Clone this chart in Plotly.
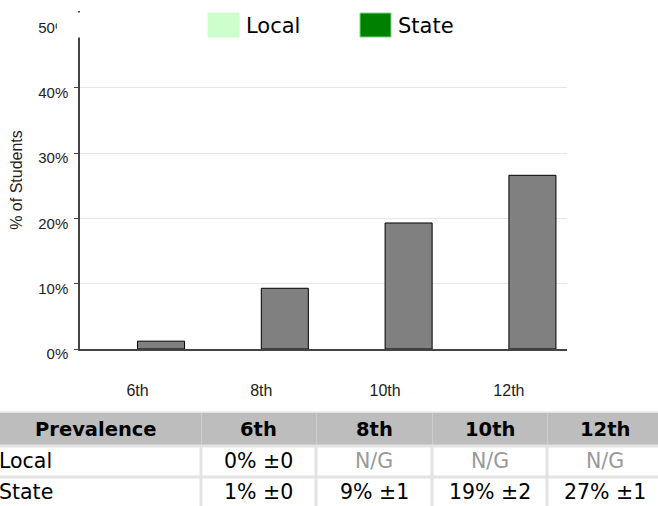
import plotly.graph_objects as go

# ---------------- data ----------------
grades = ["6th", "8th", "10th", "12th"]
local_values = [0, None, None, None]
state_values = [1.2, 9.3, 19.3, 26.6]
y_ticks = [0, 10, 20, 30, 40, 50]
y_tick_labels = ["0%", "10%", "20%", "30%", "40%", "50%"]

legend_names = ["Local", "State"]
legend_colors = ["#ccffcc", "#008000"]

table_header = ["Prevalence", "6th", "8th", "10th", "12th"]
row_labels = ["Local", "State"]
local_cells = ["0% ±0", "N/G", "N/G", "N/G"]
state_cells = ["1% ±0", "9% ±1", "19% ±2", "27% ±1"]

# ---------------- layout constants ----------------
W, H = 658, 506
ML, MR, MT, MB = 80, 91, 11, 157
PW, PH = W - ML - MR, H - MT - MB


def px(x):
    return (x - ML) / PW


def py(y):
    return (H - MB - y) / PH


FONT_AX = "Liberation Sans, Arial, sans-serif"
FONT_V = "DejaVu Sans, Verdana, sans-serif"

xpos = list(range(len(grades)))
bar_w = 0.38

fig = go.Figure()
fig.add_bar(x=xpos, y=local_values, width=bar_w, offset=-bar_w, name=legend_names[0],
            marker=dict(color="#808080", line=dict(color="#000000", width=0)),
            showlegend=False, hoverinfo="skip")
fig.add_bar(x=xpos, y=state_values, width=bar_w, offset=0, name=legend_names[1],
            marker=dict(color="#808080", line=dict(color="#000000", width=1)),
            showlegend=False)

shapes = []
annotations = []

# white box hiding the top of the axis (legend band)
shapes.append(dict(type="rect", xref="paper", yref="paper", layer="above",
                   x0=px(57), x1=px(W + 5), y0=py(37.5), y1=py(12.5),
                   fillcolor="white", line=dict(width=0)))

# legend
leg_x = [208, 360]
for name, col, lx in zip(legend_names, legend_colors, leg_x):
    shapes.append(dict(type="rect", xref="paper", yref="paper", layer="above",
                       x0=px(lx), x1=px(lx + 31), y0=py(37), y1=py(13),
                       fillcolor=col,
                       line=dict(color="#7fd87f" if col == "#008000" else col, width=1)))
    annotations.append(dict(text=name, xref="paper", yref="paper", x=px(lx + 36), y=py(26.5),
                            xanchor="left", yanchor="middle", showarrow=False,
                            font=dict(family=FONT_V, size=21, color="#000000")))

# table
col_edges = [-20, 201, 316, 432, 547, 680]
col_centers = [96, 258.5, 374, 489.5, 604.5]
head_top, head_bot = 413, 444.5
rows_y = [(447.5, 475.5), (478.5, 520)]
row_text_y = [461, 492]

shapes.append(dict(type="rect", xref="paper", yref="paper", layer="above",
                   x0=px(-20), x1=px(680), y0=py(530), y1=py(411.5),
                   fillcolor="#e3e3e3", line=dict(width=0)))
shapes.append(dict(type="rect", xref="paper", yref="paper", layer="above",
                   x0=px(-20), x1=px(680), y0=py(head_bot), y1=py(head_top),
                   fillcolor="#bdbdbd", line=dict(width=0)))
for e in col_edges[1:-1]:
    shapes.append(dict(type="line", xref="paper", yref="paper", layer="above",
                       x0=px(e + 0.5), x1=px(e + 0.5), y0=py(head_bot), y1=py(head_top),
                       line=dict(color="#cdcdcd", width=1)))
for (r0, r1) in rows_y:
    for i in range(len(col_edges) - 1):
        x0 = col_edges[i] + (1.5 if i > 0 else 0)
        x1 = col_edges[i + 1] - (1.5 if i < len(col_edges) - 2 else 0)
        shapes.append(dict(type="rect", xref="paper", yref="paper", layer="above",
                           x0=px(x0), x1=px(x1), y0=py(r1), y1=py(r0),
                           fillcolor="white", line=dict(width=0)))

for txt, cx in zip(table_header, col_centers):
    annotations.append(dict(text="<b>" + txt + "</b>", xref="paper", yref="paper",
                            x=px(cx), y=py(429.5), xanchor="center", yanchor="middle",
                            showarrow=False,
                            font=dict(family=FONT_V, size=19.5, color="#000000")))

for yc, lab, cells in zip(row_text_y, row_labels, [local_cells, state_cells]):
    annotations.append(dict(text=lab, xref="paper", yref="paper", x=px(-3.5), y=py(yc),
                            xanchor="left", yanchor="middle", showarrow=False,
                            font=dict(family=FONT_V, size=20.5, color="#000000")))
    for txt, cx in zip(cells, col_centers[1:]):
        annotations.append(dict(text=txt, xref="paper", yref="paper", x=px(cx), y=py(yc),
                                xanchor="center", yanchor="middle", showarrow=False,
                                font=dict(family=FONT_V, size=20.5,
                                          color="#999999" if txt == "N/G" else "#000000")))

group_px = 123.8
x_left = (80 - 137.5) / group_px
x_right = (567 - 137.5) / group_px

fig.update_layout(
    width=W, height=H,
    margin=dict(l=ML, r=MR, t=MT, b=MB, pad=0),
    paper_bgcolor="white", plot_bgcolor="white",
    barmode="overlay",
    showlegend=False,
    shapes=shapes,
    annotations=annotations,
    xaxis=dict(range=[x_left, x_right], tickvals=xpos, ticktext=grades,
               showline=True, linecolor="#444444", linewidth=1.5,
               ticks="", showgrid=False, zeroline=False,
               ticklabelstandoff=26,
               tickfont=dict(family=FONT_AX, size=16, color="#222222"),
               fixedrange=True),
    yaxis=dict(range=[0, (H - MB - MT) / 6.53], tickvals=y_ticks, ticktext=y_tick_labels,
               showline=True, linecolor="#444444", linewidth=1.5,
               ticks="outside", ticklen=4, tickcolor="#444444",
               showgrid=True, gridcolor="#e6e6e6", zeroline=False,
               ticklabelshift=5, ticklabelstandoff=3,
               tickfont=dict(family=FONT_AX, size=15, color="#222222"),
               title=dict(text="% of Students", standoff=12,
                          font=dict(family=FONT_AX, size=16, color="#222222")),
               fixedrange=True),
)

fig.write_html("out.html", config={"displayModeBar": False},
               post_script="document.body.style.margin='0';document.body.style.overflow='hidden';")
